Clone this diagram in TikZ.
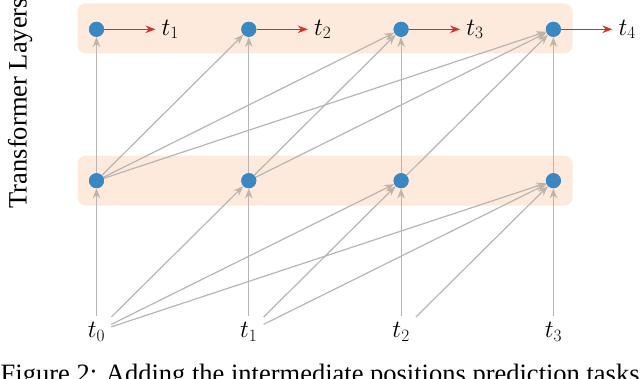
\documentclass[tikz,border=0pt]{standalone}
\usepackage{fontspec}
\setmainfont{Liberation Serif}
\usetikzlibrary{arrows.meta}
\definecolor{bandc}{RGB}{253,234,220}
\definecolor{nodec}{RGB}{58,135,193}
\definecolor{linec}{RGB}{184,181,179}
\definecolor{tipc}{RGB}{192,180,168}
\definecolor{redc}{RGB}{214,45,45}
\begin{document}
\begin{tikzpicture}[x=1pt,y=-1pt,
  band/.style={fill=bandc, rounded corners=8pt, draw=none, minimum width=495pt, minimum height=49.8pt, inner sep=0pt},
  unit/.style={circle, fill=nodec, minimum size=15pt, inner sep=0pt},
  tok/.style={inner xsep=6pt, inner ysep=6pt, font=\fontsize{24}{28}\selectfont},
  outlab/.style={anchor=west, inner xsep=6pt, inner ysep=2pt, font=\fontsize{24}{28}\selectfont},
  conn/.style={draw=linec, line width=1.2pt, -{Stealth[length=10pt,width=7.5pt,color=tipc]}},
  pred/.style={draw=redc, line width=1.3pt, -{Stealth[length=10pt,width=7.5pt]}},
  bigtext/.style={inner sep=0pt, font=\fontsize{26.5}{30}\selectfont}
  ]
\clip (0,0) rectangle (640,379);
\useasboundingbox (0,0) rectangle (640,379);
% layer bands
\node[band] (layer2) at (325,28.4) {};
\node[band] (layer1) at (325,180.65) {};
% y label
\node[bigtext, rotate=90, anchor=base west] (ylab) at (26.7,208.5) {Transformer Layers};
% caption
\node[bigtext, anchor=base west] (cap) at (0.5,382.5) {Figure 2: Adding the intermediate positions prediction tasks};
% positions
\foreach \i in {0,1,2,3} {
  \pgfmathsetmacro{\xx}{96.5+152.3*\i}
  \coordinate (c\i) at (\xx,0);
}
% tokens
\foreach \i in {0,1,2,3} {
  \node[tok, anchor=base] (t\i) at ([yshift=-337.5pt]c\i) {$t_{\i}$};
}
% units
\foreach \i in {0,1,2,3} {
  \node[unit] (b\i) at ([yshift=-180.7pt]c\i) {};
  \node[unit] (u\i) at ([yshift=-29.3pt]c\i) {};
}
% outputs
\foreach \i [evaluate=\i as \j using int(\i+1)] in {0,1,2,3} {
  \node[outlab] (o\i) at ([xshift=59pt,yshift=-29.3pt]c\i) {$t_{\j}$};
}
% connections
\foreach \i/\j in {0/0,0/1,0/2,0/3,1/1,1/2,1/3,2/2,2/3,3/3} {
  \draw[conn] (t\i) -- (b\j);
  \draw[conn] (b\i) -- (u\j);
}
\foreach \i in {0,1,2,3} {
  \draw[pred] (u\i) -- (o\i);
}
% redraw units on top
\foreach \i in {0,1,2,3} {
  \node[unit] at (b\i) {};
  \node[unit] at (u\i) {};
}
\end{tikzpicture}
\end{document}
